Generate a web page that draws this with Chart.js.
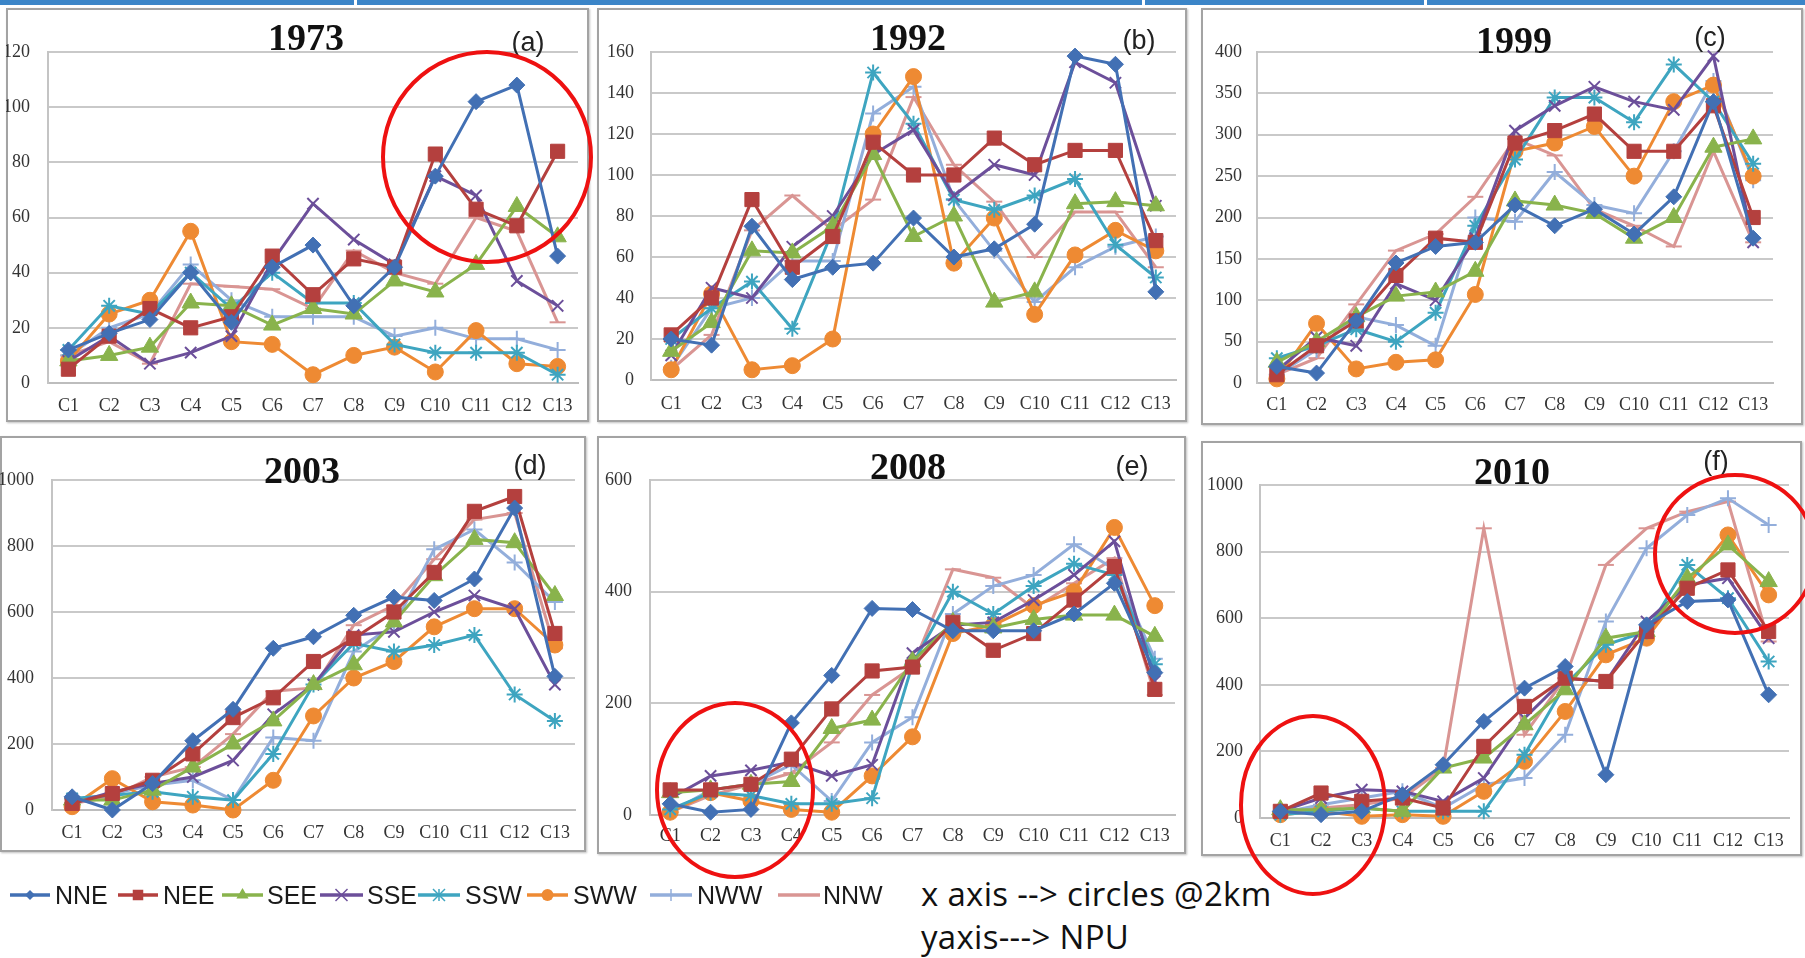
<!DOCTYPE html>
<html><head><meta charset="utf-8">
<script src="https://cdn.jsdelivr.net/npm/chart.js@4.4.1/dist/chart.umd.min.js"></script>
<style>
html,body{margin:0;padding:0;background:#fff;}
body{width:1805px;height:958px;overflow:hidden;position:relative;font-family:'Liberation Sans',Arial,sans-serif;}
.band{position:absolute;top:0;height:5px;background:#3b85c8;}
.frame{position:absolute;border:2px solid #a3a3a3;background:#fff;box-sizing:border-box;box-shadow:1px 1px 2px rgba(0,0,0,0.25);}
canvas{position:absolute;}
.title{position:absolute;font:bold 38px 'Liberation Serif','Times New Roman',serif;color:#111;transform:translate(-50%,-50%);white-space:nowrap;}
.tag{position:absolute;font:27px 'Liberation Sans',sans-serif;color:#222;transform:translate(-50%,-50%);white-space:nowrap;}
.note{position:absolute;font:33px 'Open Sans','Liberation Sans',sans-serif;letter-spacing:0.3px;color:#111;white-space:nowrap;transform:translateY(-50%);}
#legend,#marks{position:absolute;left:0;top:0;}
</style>
</head><body>
<div id="root"></div>
<svg id="legend" width="1805" height="958"></svg>
<svg id="marks" width="1805" height="958"></svg>
<script>
// ---------- data ----------
const categories = ['C1','C2','C3','C4','C5','C6','C7','C8','C9','C10','C11','C12','C13'];
const seriesNames = ['NNE','NEE','SEE','SSE','SSW','SWW','NWW','NNW'];
const years = ['1973','1992','1999','2003','2008','2010'];
const panelTags = ['(a)','(b)','(c)','(d)','(e)','(f)'];
const yMaxes = [120,160,400,1000,600,1000];
const ySteps = [20,20,50,200,200,200];

// 1973
const nne1973 = [12,18,23,40,22,42,50,28,42,75,102,108,46];
const nee1973 = [5,17,27,20,24,46,32,45,42,83,63,57,84];
const see1973 = [8,10,13,29,28,21,27,25,37,33,43,64,53];
const sse1973 = [8,17,7,11,17,44,65,52,43,75,68,37,28];
const ssw1973 = [12,28,25,40,27,40,29,29,14,11,11,11,3];
const sww1973 = [8,25,30,55,15,14,3,10,13,4,19,7,6];
const nww1973 = [10,20,25,43,30,24,24,24,17,20,16,16,12];
const nnw1973 = [10,15,7,36,35,34,27,48,40,36,60,55,22];
// 1992
const nne1992 = [20,17,75,49,55,57,79,60,64,76,158,154,43];
const nee1992 = [22,40,88,55,70,116,100,100,118,105,112,112,68];
const see1992 = [14,28,63,62,75,110,70,80,38,43,86,87,85];
const sse1992 = [12,45,40,65,80,110,122,90,105,100,155,145,85];
const ssw1992 = [20,35,48,25,73,150,125,88,83,90,98,66,50];
const sww1992 = [5,42,5,7,20,120,148,57,79,32,61,73,63];
const nww1992 = [6,35,40,58,58,130,143,88,63,38,55,65,70];
const nnw1992 = [5,22,73,90,73,88,138,105,87,60,82,82,55];
// 1999
const nne1999 = [20,12,75,145,165,170,215,190,210,180,225,340,175];
const nee1999 = [10,45,75,130,175,170,290,305,325,280,280,335,200];
const see1999 = [25,50,80,105,110,135,220,215,205,175,200,285,295];
const sse1999 = [15,55,45,120,100,175,305,335,358,340,330,395,170];
const ssw1999 = [30,45,65,50,85,190,270,345,345,315,385,340,265];
const sww1999 = [5,72,17,25,28,107,280,290,310,250,340,360,250];
const nww1999 = [10,40,80,70,45,200,195,255,215,205,280,365,245];
const nnw1999 = [10,30,95,160,180,225,295,275,210,190,165,280,170];
// 2003
const nne2003 = [40,0,80,210,305,490,525,590,645,635,700,915,405];
const nee2003 = [20,50,90,170,280,340,450,520,600,720,905,950,535];
const see2003 = [30,30,60,130,200,270,380,440,570,710,820,810,650];
const sse2003 = [20,55,80,100,150,290,380,530,540,600,650,610,380];
const ssw2003 = [35,45,55,40,30,170,380,505,480,500,530,350,270];
const sww2003 = [10,95,25,15,0,90,285,400,450,555,610,610,500];
const nww2003 = [20,50,75,90,30,220,210,480,560,790,850,750,630];
const nnw2003 = [20,40,100,130,230,360,370,560,620,760,880,900,490];
// 2008
const nne2008 = [20,5,10,165,250,370,368,330,330,330,360,415,255];
const nee2008 = [45,45,55,100,190,258,265,345,295,325,385,445,225];
const see2008 = [40,45,55,60,155,170,275,345,335,350,358,358,320];
const sse2008 = [30,70,80,95,70,90,290,340,345,385,430,490,240];
const ssw2008 = [10,40,35,20,20,30,270,400,360,410,450,430,270];
const sww2008 = [5,40,25,10,5,70,140,325,340,375,400,515,375];
const nww2008 = [5,45,55,90,25,130,175,360,410,430,485,440,280];
const nnw2008 = [5,35,55,75,130,215,265,440,425,370,415,460,215];
// 2010
const nne2010 = [20,10,20,70,160,290,390,455,130,580,650,655,370];
const nee2010 = [20,75,50,60,30,215,335,420,410,560,690,745,560];
const see2010 = [25,25,30,20,150,180,280,385,540,560,720,820,710];
const sse2010 = [20,60,85,80,50,120,300,420,410,590,700,720,540];
const ssw2010 = [10,20,30,20,20,20,190,400,520,560,760,660,470];
const sww2010 = [10,20,5,10,5,80,170,320,490,540,700,850,670];
const nww2010 = [15,40,60,80,30,100,120,250,590,810,910,960,880];
const nnw2010 = [15,30,40,60,150,870,250,420,760,870,920,950,530];

const panelSeries = [
  [nne1973,nee1973,see1973,sse1973,ssw1973,sww1973,nww1973,nnw1973],
  [nne1992,nee1992,see1992,sse1992,ssw1992,sww1992,nww1992,nnw1992],
  [nne1999,nee1999,see1999,sse1999,ssw1999,sww1999,nww1999,nnw1999],
  [nne2003,nee2003,see2003,sse2003,ssw2003,sww2003,nww2003,nnw2003],
  [nne2008,nee2008,see2008,sse2008,ssw2008,sww2008,nww2008,nnw2008],
  [nne2010,nee2010,see2010,sse2010,ssw2010,sww2010,nww2010,nnw2010]
];

// ---------- styles & layout ----------
const seriesColors = ['#4270b4','#b4403e','#89b34c','#6c4f9a','#3ea5c0','#ee8a33','#93aedb','#d99593'];
const seriesMarkers = ['rectRot','rect','triangle','crossRot','star','circle','cross','line'];
const markerRadius = [8,10,10,8,8,8,8,8];
const legendMarkerRadius = [5,7,7,6,6,6,6,0];

const panelLayout = [
  {frame:[6,8,589,422],    plot:[48,52,580,383],    title:[306,37],  tag:[528,42],  ypad:18, xpad:12},
  {frame:[597,8,1187,422], plot:[651,52,1179,380],  title:[908,37],  tag:[1139,40], ypad:17, xpad:13},
  {frame:[1201,8,1803,425],plot:[1257,52,1773,383], title:[1514,40], tag:[1710,37], ypad:15, xpad:11},
  {frame:[0,436,586,852],  plot:[52,480,578,810],   title:[302,470], tag:[530,465], ypad:18, xpad:12},
  {frame:[597,436,1186,854],plot:[650,480,1177,815],title:[908,466], tag:[1132,466],ypad:18, xpad:10},
  {frame:[1201,441,1802,856],plot:[1260,485,1789,818],title:[1512,471],tag:[1716,461],ypad:17, xpad:12}
];

const root = document.getElementById('root');
function el(tag, cls, css, text){
  const e = document.createElement(tag);
  if (cls) e.className = cls;
  Object.assign(e.style, css||{});
  if (text!==undefined) e.textContent = text;
  root.appendChild(e);
  return e;
}

// top band
[[0,354],[357,1142],[1145,1424],[1427,1805]].forEach(([a,b])=>{
  el('div','band',{left:a+'px',width:(b-a)+'px'});
});

panelLayout.forEach((L, p)=>{
  const [fx0,fy0,fx1,fy1] = L.frame;
  const [pl,pt,pr,pb] = L.plot;
  const W = fx1-fx0, H = fy1-fy0;
  el('div','frame',{left:fx0+'px',top:fy0+'px',width:W+'px',height:H+'px'});
  const cv = el('canvas',null,{left:fx0+'px',top:fy0+'px'});
  cv.width = W; cv.height = H;
  const datasets = panelSeries[p].map((vals,i)=>({
    label: seriesNames[i],
    data: vals,
    borderColor: seriesColors[i],
    backgroundColor: seriesColors[i],
    pointBackgroundColor: seriesColors[i],
    pointBorderColor: seriesColors[i],
    pointStyle: seriesMarkers[i],
    pointRadius: markerRadius[i],
    pointBorderWidth: (seriesMarkers[i]==='crossRot'||seriesMarkers[i]==='star'||seriesMarkers[i]==='cross'||seriesMarkers[i]==='line')?2:1,
    borderWidth: 3,
    tension: 0,
    clip: false,
    fill: false
  }));
  new Chart(cv, {
    type:'line',
    data:{labels:categories, datasets},
    options:{
      responsive:false, animation:false, devicePixelRatio:1,
      events:[],
      layout:{padding:{left:0, top:pt-fy0, right:fx1-pr, bottom:0}},
      plugins:{legend:{display:false}, tooltip:{enabled:false}, title:{display:false}},
      scales:{
        x:{
          type:'category', offset:true,
          grid:{display:false, drawTicks:false},
          border:{display:true, color:'#bdbdbd', width:2},
          ticks:{padding:L.xpad, autoSkip:false, maxRotation:0, color:'#333',
                 font:{family:"'Liberation Serif','Times New Roman',serif", size:18}},
          afterFit:(s)=>{ s.height = fy1-pb; }
        },
        y:{
          min:0, max:yMaxes[p],
          grid:{color:'#c9c9c9', lineWidth:2, drawTicks:false},
          border:{display:true, color:'#c4c4c4', width:2},
          ticks:{stepSize:ySteps[p], padding:L.ypad, color:'#333',
                 callback:(v)=>String(v),
                 font:{family:"'Liberation Serif','Times New Roman',serif", size:18}},
          afterFit:(s)=>{ s.width = pl-fx0; }
        }
      }
    }
  });
  el('div','title',{left:L.title[0]+'px',top:L.title[1]+'px'}, years[p]);
  el('div','tag',{left:L.tag[0]+'px',top:L.tag[1]+'px'}, panelTags[p]);
});

// legend (svg)
const NS='http://www.w3.org/2000/svg';
const lg = document.getElementById('legend');
function sv(tag, attrs, parent){
  const e=document.createElementNS(NS,tag);
  for(const k in attrs) e.setAttribute(k, attrs[k]);
  (parent||lg).appendChild(e); return e;
}
const legendItems = [[10,50,55],[118,158,163],[222,263,267],[320,363,367],[418,460,465],[527,568,573],[650,692,697],[778,820,823]];
const LY = 895;
legendItems.forEach(([a,b,t],i)=>{
  const c = seriesColors[i], cx=(a+b)/2, r=legendMarkerRadius[i];
  sv('line',{x1:a,y1:LY,x2:b,y2:LY,stroke:c,'stroke-width':3.5});
  const m = seriesMarkers[i];
  if (m==='rectRot') sv('polygon',{points:`${cx},${LY-r} ${cx+r},${LY} ${cx},${LY+r} ${cx-r},${LY}`,fill:c});
  else if (m==='rect') sv('rect',{x:cx-r*0.75,y:LY-r*0.75,width:r*1.5,height:r*1.5,fill:c});
  else if (m==='triangle') sv('polygon',{points:`${cx},${LY-r} ${cx+r*0.87},${LY+r*0.5} ${cx-r*0.87},${LY+r*0.5}`,fill:c});
  else if (m==='crossRot'){ sv('line',{x1:cx-r,y1:LY-r,x2:cx+r,y2:LY+r,stroke:c,'stroke-width':1.5}); sv('line',{x1:cx-r,y1:LY+r,x2:cx+r,y2:LY-r,stroke:c,'stroke-width':1.5}); }
  else if (m==='star'){ sv('line',{x1:cx-r,y1:LY-r,x2:cx+r,y2:LY+r,stroke:c,'stroke-width':1.5}); sv('line',{x1:cx-r,y1:LY+r,x2:cx+r,y2:LY-r,stroke:c,'stroke-width':1.5}); sv('line',{x1:cx,y1:LY-r,x2:cx,y2:LY+r,stroke:c,'stroke-width':1.5}); }
  else if (m==='circle') sv('circle',{cx:cx,cy:LY,r:r,fill:c});
  else if (m==='cross') sv('line',{x1:cx,y1:LY-r,x2:cx,y2:LY+r,stroke:c,'stroke-width':1.5});
  const tx = sv('text',{x:t,y:LY,'dominant-baseline':'central','font-family':"'Liberation Sans',sans-serif",'font-size':25,fill:'#1a1a1a',textLength:(i===6||i===7||i===4||i===5)?null:null});
  tx.removeAttribute('textLength');
  tx.textContent = seriesNames[i];
});
el('div','note',{left:'921px',top:'893px'},'x axis --> circles @2km');
el('div','note',{left:'921px',top:'936px'},'yaxis---> NPU');

// red annotation ellipses
const mk = document.getElementById('marks');
[[487,157,104,105],[735,790,78,87],[1313,805,72,89],[1735,554,80,79]].forEach(([cx,cy,rx,ry])=>{
  sv('ellipse',{cx,cy,rx,ry,fill:'none',stroke:'#ee1111','stroke-width':4}, mk);
});
</script>
</body></html>
